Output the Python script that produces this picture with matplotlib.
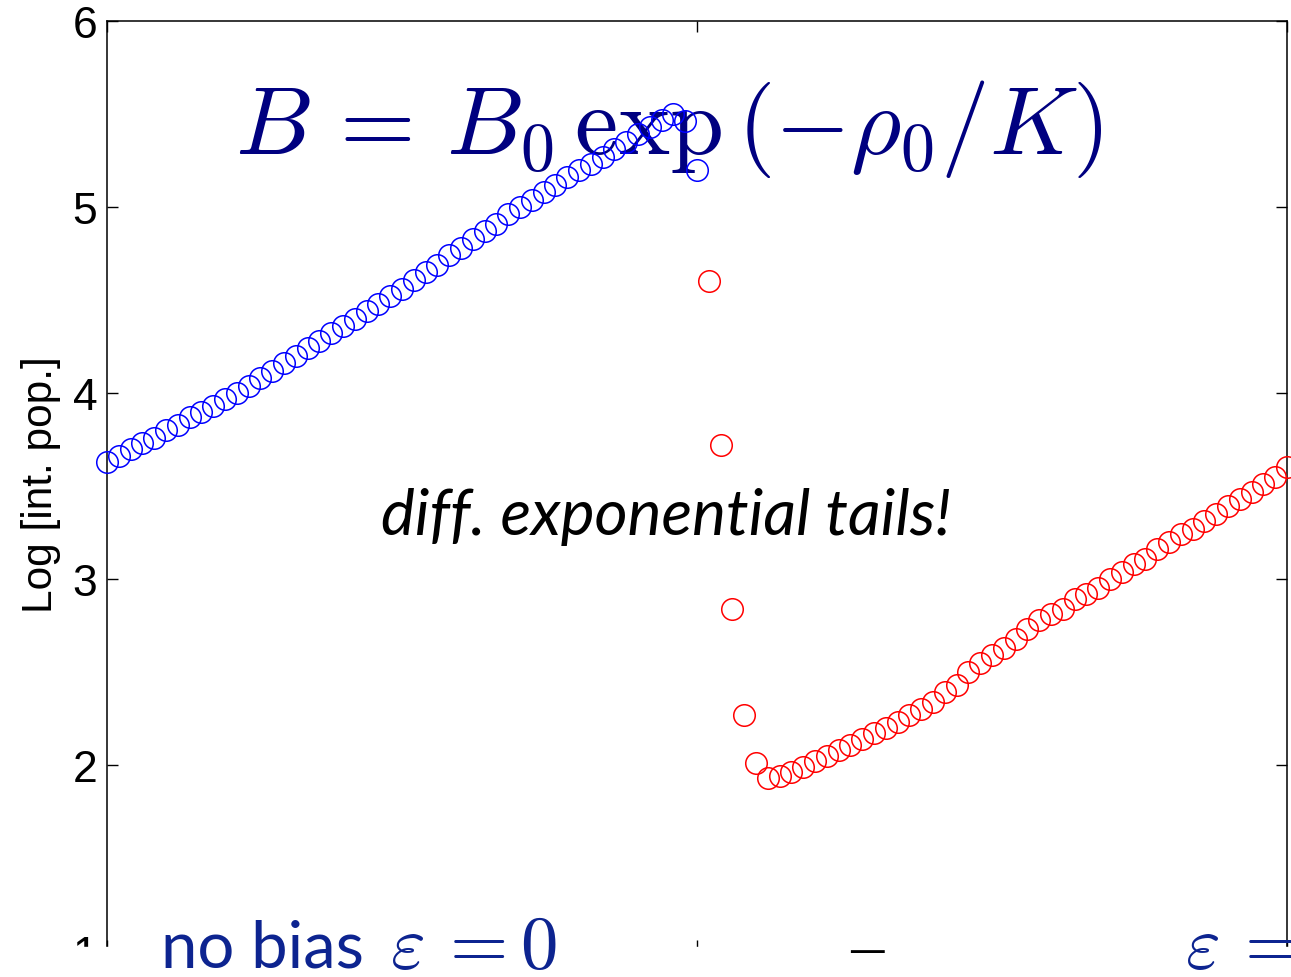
import matplotlib.pyplot as plt
from matplotlib.patches import Rectangle
import numpy as np

plt.rcParams['mathtext.fontset'] = 'cm'

# log of integrated population, sampled on 101 sites (-50 .. 50)
sites = np.arange(-50, 51)

no_bias = [3.63, 3.66, 3.70, 3.73, 3.76, 3.80, 3.83, 3.87, 3.90, 3.93,
           3.97, 4.00, 4.04, 4.08, 4.12, 4.16, 4.20, 4.24, 4.28, 4.32,
           4.36, 4.40, 4.44, 4.48, 4.52, 4.56, 4.61, 4.65, 4.69, 4.74,
           4.78, 4.83, 4.87, 4.91, 4.96, 5.00, 5.04, 5.08, 5.12, 5.16,
           5.20, 5.23, 5.27, 5.31, 5.35, 5.39, 5.43, 5.47, 5.50, 5.46,
           5.20]

biased = [4.60, 3.72, 2.84, 2.27, 2.01, 1.93, 1.94, 1.96, 1.99, 2.02,
          2.05, 2.08, 2.11, 2.14, 2.17, 2.20, 2.23, 2.27, 2.30, 2.34,
          2.39, 2.43, 2.50, 2.55, 2.59, 2.63, 2.68, 2.73, 2.78, 2.81,
          2.84, 2.89, 2.92, 2.95, 3.00, 3.04, 3.08, 3.11, 3.16, 3.20,
          3.24, 3.27, 3.31, 3.35, 3.39, 3.43, 3.47, 3.51, 3.55, 3.60]

yticks = [1, 2, 3, 4, 5, 6]

W, H = 1291, 978
fig = plt.figure(figsize=(W / 100, H / 100), dpi=100)
ax = fig.add_axes([107 / W, 1 - 952 / H, 1180 / W, 930 / H])

mk = dict(ls='none', marker='o', mfc='none', ms=15.5, mew=1.1, clip_on=False, zorder=3)
ax.plot(sites[:51], no_bias, mec='blue', **mk)
ax.plot(sites[51:], biased, mec='red', **mk)

ax.set_xlim(-50, 50)
ax.set_ylim(1, 6)
ax.set_xticks([-50, 0, 50])
ax.set_xticklabels([])
ax.set_yticks(yticks)
ax.set_yticklabels([str(t) for t in yticks], fontfamily='Liberation Sans')
ax.tick_params(direction='in', length=8, width=1, top=True, right=True,
               labelsize=32, pad=7, colors='black')
for s in ax.spines.values():
    s.set_linewidth(1.1)
ax.set_ylabel('Log [int. pop.]', fontfamily='Liberation Sans', fontsize=30.5)
ax.yaxis.set_label_coords(-0.039, 0.503)

ax.text(0.4755, 0.885, r'$B\, =\, B_0\,\exp\left(-\rho_0/K\right)$', transform=ax.transAxes,
        ha='center', va='center', fontsize=70, color='#000080', zorder=1)
ax.text(0.474, 0.468, 'diff. exponential tails!', transform=ax.transAxes,
        ha='center', va='center', fontsize=46, fontstyle='italic',
        fontfamily='Lato', color='black', zorder=1)

# strip along the bottom that hides the lower end of the frame
fig.add_artist(Rectangle((0, 0), 1, 30 / H, transform=fig.transFigure,
                         color='white', zorder=10))

blue_txt = '#0d2490'
fig.text(161 / W, 1 - 968 / H, 'no bias', fontfamily='Lato', fontsize=47,
         color=blue_txt, zorder=11)
fig.text(390 / W, 1 - 968 / H, r'$\varepsilon\, = 0$', fontsize=54,
         color=blue_txt, zorder=11)
fig.text(1185 / W, 1 - 968 / H, r'$\varepsilon\, = 0.1$', fontsize=54,
         color=blue_txt, zorder=11)
fig.text(848 / W, 1 - 962 / H, '\u2014', fontsize=27, color='black', zorder=11)

fig.savefig('out.png', dpi=100)
